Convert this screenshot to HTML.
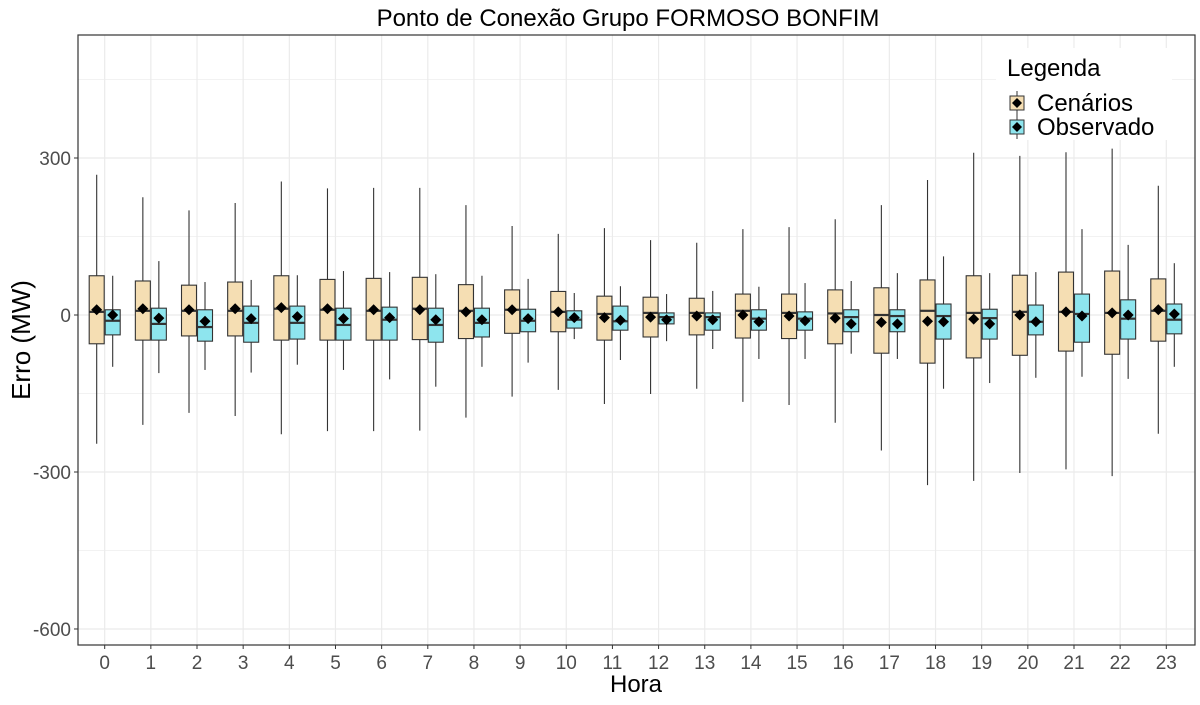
<!DOCTYPE html>
<html><head><meta charset="utf-8"><style>
body{margin:0;background:#fff;font-family:"Liberation Sans",sans-serif}
</style></head><body>
<svg id="c" width="1200" height="700" xmlns="http://www.w3.org/2000/svg" font-family="Liberation Sans, sans-serif"></svg>
<script>
const hours=[0,1,2,3,4,5,6,7,8,9,10,11,12,13,14,15,16,17,18,19,20,21,22,23];
const cenLow=[-246,-210,-187,-193,-228,-222,-222,-221,-196,-156,-143,-170,-151,-141,-166,-172,-206,-259,-325,-317,-302,-295,-308,-227];
const cenQ1=[-55,-48,-40,-40,-48,-48,-48,-47,-45,-35,-32,-48,-42,-38,-44,-45,-55,-73,-92,-82,-77,-69,-75,-50];
const cenMed=[6,8,8,8,12,10,8,12,8,10,6,2,4,4,8,4,3,0,8,4,6,6,4,8];
const cenQ3=[75,65,57,63,75,68,70,72,58,48,45,36,34,32,40,40,48,52,67,75,76,82,84,69];
const cenHigh=[268,225,200,214,255,242,243,243,210,170,155,166,143,138,164,168,183,210,258,310,304,311,318,247];
const cenMean=[10,12,10,12,14,12,10,10,6,10,6,-5,-4,-2,0,-2,-6,-14,-12,-8,0,6,4,10];
const obsLow=[-99,-111,-105,-110,-95,-105,-123,-137,-99,-91,-46,-86,-50,-65,-84,-84,-74,-84,-141,-130,-120,-118,-122,-99];
const obsQ1=[-38,-48,-50,-52,-46,-48,-48,-52,-42,-32,-25,-29,-17,-29,-29,-29,-32,-32,-46,-46,-38,-52,-46,-36];
const obsMed=[-11,-17,-23,-15,-15,-19,-9,-19,-15,-11,-9,-12,-4,-4,-7,-7,-4,-2,-2,-6,-13,2,-7,-9];
const obsQ3=[10,13,10,17,17,13,15,13,13,11,8,17,4,4,10,6,10,10,21,11,19,40,29,21];
const obsHigh=[75,103,63,67,76,84,82,78,75,69,42,55,40,46,54,61,65,80,112,80,82,164,134,99];
const obsMean=[0,-6,-12,-7,-3,-7,-5,-9,-9,-7,-5,-10,-9,-9,-13,-11,-17,-17,-13,-17,-13,-2,0,2];
const yTicks=[300,0,-300,-600];
const yMinor=[450,150,-150,-450];

const svg=document.getElementById('c');const NS='http://www.w3.org/2000/svg';
const L=78,R=1195,T=35,B=645;
const step=(R-L)/24.2;
const xs=i=>L+(i+0.6)*step-1;
const ys=v=>315-v*0.5233;
function el(t,a,p){const e=document.createElementNS(NS,t);for(const k in a)e.setAttribute(k,a[k]);(p||svg).appendChild(e);return e;}
const grid=el('g',{});


yMinor.forEach(v=>el('line',{x1:L,x2:R,y1:ys(v),y2:ys(v),stroke:'#f2f2f2','stroke-width':1},grid));
yTicks.forEach(v=>el('line',{x1:L,x2:R,y1:ys(v),y2:ys(v),stroke:'#ebebeb','stroke-width':1.2},grid));
hours.forEach((h,i)=>el('line',{x1:xs(i),x2:xs(i),y1:T,y2:B,stroke:'#ebebeb','stroke-width':1.2},grid));
function box(g,cx,lo,q1,md,q3,hi,mn,fill,name){
  const w=15;
  el('line',{x1:cx,x2:cx,y1:ys(hi),y2:ys(lo),stroke:'#333','stroke-width':1.1},g);
  const r=el('rect',{x:cx-w/2,y:ys(q3),width:w,height:ys(q1)-ys(q3),fill:fill,stroke:'#333','stroke-width':1.1},g);
  
  
  el('line',{x1:cx-w/2,x2:cx+w/2,y1:ys(md),y2:ys(md),stroke:'#333','stroke-width':2.2},g);
  const d=el('path',{d:`M${cx} ${ys(mn)-5.5}L${cx+5.5} ${ys(mn)}L${cx} ${ys(mn)+5.5}L${cx-5.5} ${ys(mn)}Z`,fill:'#000'},g);
  
  
}
hours.forEach((h,i)=>{
  const g=el('g',{});
  
  
  box(g,xs(i)-8,cenLow[i],cenQ1[i],cenMed[i],cenQ3[i],cenHigh[i],cenMean[i],'#f5deb3','box-cenarios-'+h);
  box(g,xs(i)+8,obsLow[i],obsQ1[i],obsMed[i],obsQ3[i],obsHigh[i],obsMean[i],'#8ee5ee','box-observado-'+h);
  const t=el('text',{x:xs(i),y:669,'text-anchor':'middle','font-size':19,fill:'#4d4d4d'});t.textContent=h;
  
  
  el('line',{x1:xs(i),x2:xs(i),y1:B,y2:B+4,stroke:'#333'});
});
yTicks.forEach(v=>{
  const t=el('text',{x:71,y:ys(v)+7,'text-anchor':'end','font-size':19,fill:'#4d4d4d'});t.textContent=v;
  
  
  el('line',{x1:L-4,x2:L,y1:ys(v),y2:ys(v),stroke:'#333'});
});
const fr=el('rect',{x:L,y:T,width:R-L,height:B-T,fill:'none',stroke:'#333','stroke-width':1.2});


function txt(s,a,name){const t=el('text',a);t.textContent=s;return t;}
txt('Ponto de Conexão Grupo FORMOSO BONFIM',{x:628,y:26,'text-anchor':'middle','font-size':24,fill:'#000'},'chart-title');
txt('Hora',{x:636,y:692,'text-anchor':'middle','font-size':24,fill:'#000'},'x-axis-title');
txt('Erro (MW)',{x:0,y:0,transform:'translate(30,340) rotate(-90)','text-anchor':'middle','font-size':26,fill:'#000'},'y-axis-title');
const lg=el('g',{});


el('rect',{x:996,y:48,width:176,height:92,fill:'#fff'},lg);
txt('Legenda',{x:1007,y:76,'font-size':24,fill:'#000'},'legend-title');
[['Cenários','#f5deb3',103],['Observado','#8ee5ee',127]].forEach(([n,c,y])=>{
  const g=el('g',{},lg);
  
  
  el('line',{x1:1017,x2:1017,y1:y-12,y2:y+12,stroke:'#333'},g);
  el('rect',{x:1010,y:y-7,width:14,height:14,fill:c,stroke:'#333'},g);
  el('path',{d:`M1017 ${y-5}L1022 ${y}L1017 ${y+5}L1012 ${y}Z`,fill:'#000'},g);
  const t=el('text',{x:1037,y:y+8,'font-size':24,fill:'#000'},g);t.textContent=n;
});
</script>
</body></html>
